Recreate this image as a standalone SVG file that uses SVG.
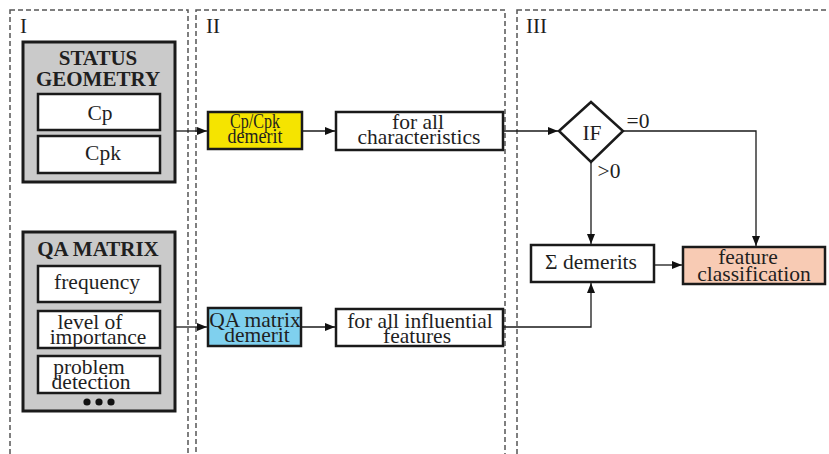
<svg xmlns="http://www.w3.org/2000/svg" width="829" height="454" viewBox="0 0 829 454" font-family="'Liberation Serif', 'Times New Roman', serif">
<style>
text{font-family:"Liberation Serif","Times New Roman",serif;fill:#1f1f1f;text-anchor:middle;font-size:21.5px}
.region{fill:none;stroke:#555;stroke-width:1.5;stroke-dasharray:5 3}
.rl{font-size:21px;text-anchor:start}
.outer{fill:#cacaca;stroke:#1a1a1a;stroke-width:3}
.inner{fill:#fff;stroke:#1a1a1a;stroke-width:2.5}
.box{stroke:#1a1a1a;stroke-width:2.5}
.title{font-size:21px;font-weight:bold}
.c{fill:none;stroke:#1a1a1a;stroke-width:1.3}
</style>
<defs>
<marker id="ah" markerWidth="10" markerHeight="8" refX="10" refY="4" orient="auto" markerUnits="userSpaceOnUse">
<path d="M0,0 L10,4 L0,8 Z" fill="#111"/>
</marker>
</defs>
<rect width="829" height="454" fill="#fff"/>
<g id="regions">
<rect class="region" x="10" y="10" width="178" height="460"/>
<rect class="region" x="196" y="10" width="309" height="460"/>
<rect class="region" x="517" y="10" width="330" height="460"/>
<text class="rl" x="20" y="33">I</text>
<text class="rl" x="206" y="33">II</text>
<text class="rl" x="526" y="33">III</text>
</g>
<g id="status-geometry">
<rect class="outer" x="23" y="42" width="152" height="140"/>
<text class="title" x="98" y="65">STATUS</text>
<text class="title" x="98" y="86">GEOMETRY</text>
<rect class="inner" x="38" y="94" width="122" height="36"/>
<text x="100" y="120">Cp</text>
<rect class="inner" x="38" y="136" width="122" height="37"/>
<text x="103" y="160">Cpk</text>
</g>
<g id="qa-matrix">
<rect class="outer" x="23" y="232" width="152" height="179"/>
<text class="title" x="98" y="256">QA MATRIX</text>
<rect class="inner" x="38" y="266" width="122" height="36"/>
<text x="97" y="289">frequency</text>
<rect class="inner" x="38" y="311" width="122" height="37"/>
<text x="90" y="329">level of</text>
<text x="98" y="344">importance</text>
<rect class="inner" x="38" y="356" width="122" height="37"/>
<text x="89" y="374">problem</text>
<text x="91" y="389">detection</text>
<circle cx="87" cy="402" r="3.6" fill="#111"/>
<circle cx="99" cy="402" r="3.6" fill="#111"/>
<circle cx="111" cy="402" r="3.6" fill="#111"/>
</g>
<g id="cp-demerit">
<rect class="box" x="208" y="112" width="94" height="37" fill="#f5e400"/>
<text x="255" y="128" textLength="50" lengthAdjust="spacingAndGlyphs" style="font-size:20px">Cp/Cpk</text>
<text x="255" y="143" textLength="55" lengthAdjust="spacingAndGlyphs" style="font-size:20px">demerit</text>
</g>
<g id="for-all-characteristics">
<rect class="box" x="336" y="112" width="167" height="38" fill="#fff"/>
<text x="418" y="129">for all</text>
<text x="419" y="144">characteristics</text>
</g>
<g id="qa-demerit">
<rect class="box" x="208" y="308" width="93" height="38" fill="#7fd0ee"/>
<text x="255" y="327">QA matrix</text>
<text x="257" y="342">demerit</text>
</g>
<g id="for-all-influential">
<rect class="box" x="336" y="309" width="167" height="37" fill="#fff"/>
<text x="420" y="328">for all influential</text>
<text x="417" y="343">features</text>
</g>
<g id="if">
<path d="M559,131 L591,102 L623,131 L591,162 Z" fill="#fff" stroke="#1a1a1a" stroke-width="2.5"/>
<text x="592" y="140">IF</text>
</g>
<g id="sum-demerits">
<rect class="box" x="531" y="245" width="123" height="37" fill="#fff"/>
<text x="591" y="269">Σ demerits</text>
</g>
<g id="feature-classification">
<rect class="box" x="683" y="247" width="142" height="37" fill="#f8cbb4"/>
<text x="748" y="264">feature</text>
<text x="754" y="281">classification</text>
</g>
<g id="connectors">
<path class="c" d="M175,131 L207,131" marker-end="url(#ah)"/>
<path class="c" d="M302,131 L335,131" marker-end="url(#ah)"/>
<path class="c" d="M503,131 L558,131" marker-end="url(#ah)"/>
<path class="c" d="M623,131 L756,131 L756,246" marker-end="url(#ah)"/>
<path class="c" d="M591,162 L591,244" marker-end="url(#ah)"/>
<path class="c" d="M654,265 L682,265" marker-end="url(#ah)"/>
<path class="c" d="M175,327 L207,327" marker-end="url(#ah)"/>
<path class="c" d="M301,327 L335,327" marker-end="url(#ah)"/>
<path class="c" d="M503,327 L591,327 L591,283" marker-end="url(#ah)"/>
<text x="638" y="128">=0</text>
<text x="609" y="178">&gt;0</text>
</g>
</svg>
